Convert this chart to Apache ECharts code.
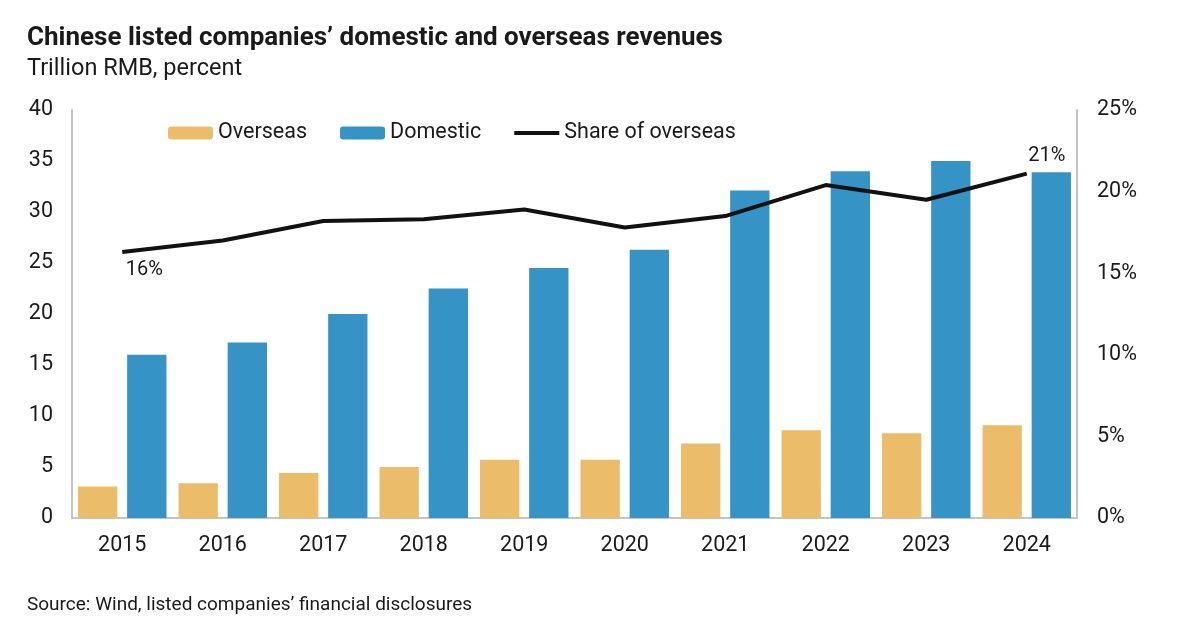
<!DOCTYPE html>
<html>
<head>
<meta charset="utf-8">
<script src="https://cdn.jsdelivr.net/npm/echarts@6/dist/echarts.min.js"></script>
<style>
  html, body { margin: 0; padding: 0; background: #fff; }
  #chart { width: 1199px; height: 621px; }
</style>
</head>
<body>
<div id="chart"></div>
<script>
var years = ['2015', '2016', '2017', '2018', '2019', '2020', '2021', '2022', '2023', '2024'];
var overseas = [3.1, 3.4, 4.4, 5.0, 5.7, 5.7, 7.3, 8.6, 8.3, 9.1];   // trillion RMB
var domestic = [16.0, 17.2, 20.0, 22.5, 24.5, 26.3, 32.1, 34.0, 35.0, 33.9];
var shareOverseas = [16.3, 17.0, 18.2, 18.3, 18.9, 17.8, 18.5, 20.4, 19.5, 21.1]; // percent

var textColor = '#1a1a1a';
var font = 'Roboto';

// only first and last point get a label
var shareData = shareOverseas.map(function (v, i) {
    if (i === 0) {
        return { value: v, label: { show: true, position: 'bottom', offset: [22, 3] } };
    }
    if (i === shareOverseas.length - 1) {
        return { value: v, label: { show: true, position: 'top', offset: [20, -3] } };
    }
    return v;
});

var dom = document.getElementById('chart');
var myChart = echarts.init(dom);
var option = {
    backgroundColor: '#fff',
    textStyle: { fontFamily: font, color: textColor },
    title: [
        {
            text: 'Chinese listed companies\u2019 domestic and overseas revenues',
            left: 22, top: 20,
            textStyle: { fontFamily: font, fontSize: 26, fontWeight: 'bold', color: textColor }
        },
        {
            text: 'Trillion RMB, percent',
            left: 22, top: 52,
            textStyle: { fontFamily: font, fontSize: 23.5, fontWeight: 'normal', color: textColor }
        },
        {
            text: 'Source: Wind, listed companies\u2019 financial disclosures',
            left: 22, top: 591,
            textStyle: { fontFamily: font, fontSize: 19, fontWeight: 'normal', color: textColor }
        }
    ],
    legend: {
        left: 163, top: 117,
        itemWidth: 45, itemHeight: 13, itemGap: 33,
        textStyle: { fontFamily: font, fontSize: 21.5, color: textColor },
        data: [
            'Overseas',
            'Domestic',
            { name: 'Share of overseas', icon: 'path://M0,0 H45 V4 H0 Z' }
        ]
    },
    grid: { left: 72, right: 122, top: 110, bottom: 103, containLabel: false },
    xAxis: {
        type: 'category',
        data: years,
        axisLine: { lineStyle: { color: '#c4c4c4', width: 2 } },
        axisTick: { show: false },
        axisLabel: { fontFamily: font, fontSize: 21.5, color: textColor, margin: 17 }
    },
    yAxis: [
        {
            type: 'value', min: 0, max: 40, interval: 5,
            axisLine: { show: true, lineStyle: { color: '#c4c4c4', width: 2 } },
            splitLine: { show: false },
            axisLabel: { fontFamily: font, fontSize: 21.5, color: textColor, margin: 19 }
        },
        {
            type: 'value', min: 0, max: 25, interval: 5,
            axisLine: { show: true, lineStyle: { color: '#c4c4c4', width: 2 } },
            splitLine: { show: false },
            axisLabel: { fontFamily: font, fontSize: 21.5, color: textColor, margin: 20, formatter: '{value}%' }
        }
    ],
    series: [
        {
            name: 'Overseas', type: 'bar', data: overseas,
            barCategoryGap: '12%', barGap: '25%',
            itemStyle: { color: '#EBBD6A' }
        },
        {
            name: 'Domestic', type: 'bar', data: domestic,
            barCategoryGap: '12%', barGap: '25%',
            itemStyle: { color: '#3593C6' }
        },
        {
            name: 'Share of overseas', type: 'line', yAxisIndex: 1, data: shareData,
            symbol: 'circle', symbolSize: 0.1, showSymbol: true,
            lineStyle: { color: '#111', width: 4 },
            itemStyle: { color: '#111' },
            label: { fontFamily: font, fontSize: 20, color: textColor, formatter: function (p) { return Math.round(p.value) + '%'; } },
            z: 5
        }
    ]
};
myChart.setOption(option);
window.onresize = myChart.resize;
</script>
</body>
</html>
